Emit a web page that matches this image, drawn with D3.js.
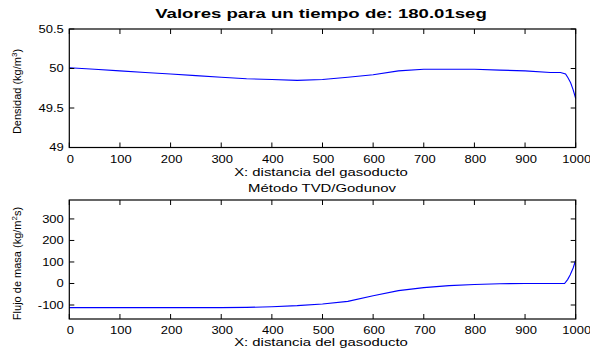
<!DOCTYPE html>
<html>
<head>
<meta charset="utf-8">
<script src="https://cdn.jsdelivr.net/npm/d3@7"></script>
<style>
  html, body { margin: 0; padding: 0; background: #fff; }
  svg { display: block; }
  text { font-family: "Liberation Sans", Arial, Helvetica, sans-serif; fill: #000; }
</style>
</head>
<body>
<svg id="fig" width="590" height="351"></svg>
<script>
// Position along the pipeline (m)
const xDensity = [0, 50, 100, 150, 200, 250, 300, 350, 400, 450, 500, 550, 600, 650, 700, 750, 800, 850, 900, 950, 970, 980, 985, 990, 995, 1000];
// Density (kg/m^3)
const density  = [50.01, 49.99, 49.97, 49.95, 49.93, 49.91, 49.89, 49.87, 49.86, 49.85, 49.86, 49.89, 49.92, 49.97, 49.99, 49.99, 49.99, 49.98, 49.97, 49.95, 49.95, 49.93, 49.88, 49.82, 49.73, 49.62];

const xFlux = [0, 50, 100, 150, 200, 250, 300, 350, 400, 450, 500, 550, 600, 650, 700, 750, 800, 850, 900, 950, 978, 984, 989, 995, 1000];
// Mass flux (kg/m^2 s)
const flux  = [-112, -112, -112, -112, -112, -112, -112, -111, -108, -103, -95, -83, -57, -33, -19, -10, -5, -1, 0, 0, 0, 18, 40, 72, 109];

const xTicks = [0, 100, 200, 300, 400, 500, 600, 700, 800, 900, 1000];
const densityTicks = [49, 49.5, 50, 50.5];
const fluxTicks = [-100, 0, 100, 200, 300];

const titleText = "Valores para un tiempo de: 180.01seg";
const xLabelText = "X: distancia del gasoducto";
const methodText = "Método TVD/Godunov";

const svg = d3.select("#fig");
const left = 69.3, right = 575.7;
const tickLen = 5;

// Horizontally widened text, as the figure's fonts are rendered
function wideText(g, x, y, str, opts) {
  const o = Object.assign({size: 10, sx: 1.45, anchor: "middle", weight: "normal"}, opts || {});
  return g.append("text")
    .attr("transform", `translate(${x},${y}) scale(${o.sx},1)`)
    .attr("text-anchor", o.anchor)
    .attr("font-size", o.size)
    .attr("font-weight", o.weight)
    .text(str);
}

function panel(cfg) {
  const x = d3.scaleLinear().domain([0, 1000]).range([left, right]);
  const y = d3.scaleLinear().domain(cfg.yDomain).range([cfg.bottom, cfg.top]);
  const g = svg.append("g");

  // data line
  g.append("path")
    .datum(cfg.xs.map((d, i) => [d, cfg.ys[i]]))
    .attr("fill", "none")
    .attr("stroke", "#0000ff")
    .attr("stroke-width", 1.1)
    .attr("d", d3.line().x(d => x(d[0])).y(d => y(d[1])));

  // box
  g.append("rect")
    .attr("x", left).attr("y", cfg.top)
    .attr("width", right - left).attr("height", cfg.bottom - cfg.top)
    .attr("fill", "none").attr("stroke", "#000").attr("stroke-width", 1.2);

  // inward ticks on all four sides
  const tk = g.append("g").attr("stroke", "#000").attr("stroke-width", 1);
  xTicks.forEach(t => {
    const px = x(t);
    tk.append("line").attr("x1", px).attr("x2", px).attr("y1", cfg.bottom).attr("y2", cfg.bottom - tickLen);
    tk.append("line").attr("x1", px).attr("x2", px).attr("y1", cfg.top).attr("y2", cfg.top + tickLen);
  });
  cfg.yTicks.forEach(t => {
    const py = y(t);
    tk.append("line").attr("x1", left).attr("x2", left + tickLen).attr("y1", py).attr("y2", py);
    tk.append("line").attr("x1", right).attr("x2", right - tickLen).attr("y1", py).attr("y2", py);
  });

  // tick labels
  xTicks.forEach(t => wideText(g, x(t) + 1, cfg.bottom + 15, String(t), {sx: 1.3}));
  cfg.yTicks.forEach(t => wideText(g, left - 5.5, y(t) + 3.6, String(t), {sx: 1.3, anchor: "end"}));

  // x label
  wideText(g, 321, cfg.xLabelY, xLabelText, {sx: 1.49});

  // y label (rotated) with superscript
  const yl = g.append("text")
    .attr("transform", `translate(21,${cfg.yLabelCenter}) rotate(-90)`)
    .attr("text-anchor", "middle")
    .attr("font-size", 11);
  yl.append("tspan").text(cfg.yLabel[0]);
  yl.append("tspan").attr("baseline-shift", "super").attr("font-size", 8).text(cfg.yLabel[1]);
  yl.append("tspan").text(cfg.yLabel[2]);
  return g;
}

// Title
wideText(svg, 321, 18, titleText, {size: 12, sx: 1.55, weight: "bold"});

panel({
  top: 29, bottom: 147.5, yDomain: [49, 50.5], yTicks: densityTicks,
  xs: xDensity, ys: density,
  xLabelY: 175.5, yLabelCenter: 91.5,
  yLabel: ["Densidad (kg/m", "3", ")"]
});

wideText(svg, 322, 192, methodText, {sx: 1.49});

panel({
  top: 200, bottom: 319, yDomain: [-165, 388], yTicks: fluxTicks,
  xs: xFlux, ys: flux,
  xLabelY: 346, yLabelCenter: 263.5,
  yLabel: ["Flujo de masa (kg/m", "2", "s)"]
});
</script>
</body>
</html>
